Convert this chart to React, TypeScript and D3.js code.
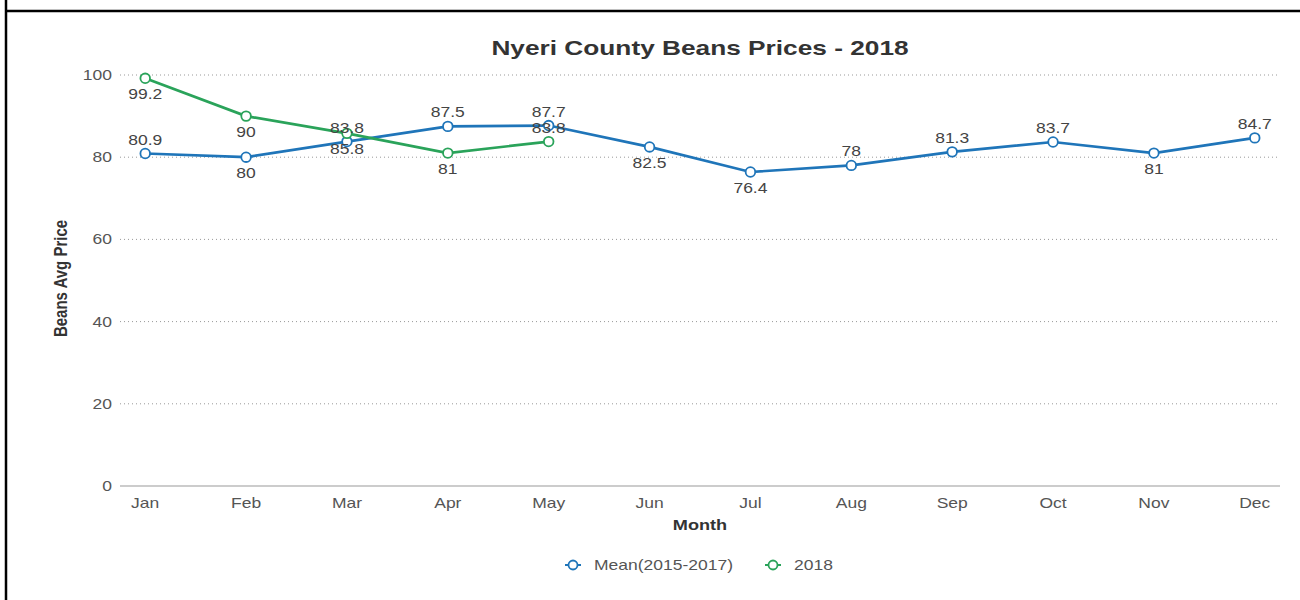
import React from "react";
import * as d3 from "d3";

const months = ["Jan", "Feb", "Mar", "Apr", "May", "Jun", "Jul", "Aug", "Sep", "Oct", "Nov", "Dec"];
const meanValues = [80.9, 80, 83.8, 87.5, 87.7, 82.5, 76.4, 78, 81.3, 83.7, 81, 84.7];
const values2018 = [99.2, 90, 85.8, 81, 83.8];
const yTicks = [0, 20, 40, 60, 80, 100];
const seriesNames = ["Mean(2015-2017)", "2018"];
const seriesColors = ["#1f75b9", "#2aa35a"];

const W = 1300;
const H = 600;
const plotLeft = 120;
const plotRight = 1280;
const plotTop = 75;
const plotBottom = 486;
const font = "'Liberation Sans', Arial, Helvetica, sans-serif";
const SX = 1.25;

type TProps = {
  x: number;
  y: number;
  anchor?: "start" | "middle" | "end";
  size: number;
  bold?: boolean;
  fill: string;
  children: React.ReactNode;
};

function T({ x, y, anchor = "start", size, bold, fill, children }: TProps) {
  return (
    <text
      transform={`translate(${x},${y}) scale(${SX},1)`}
      textAnchor={anchor}
      fontFamily={font}
      fontWeight={bold ? "bold" : "normal"}
      fontSize={size}
      fill={fill}
    >
      {children}
    </text>
  );
}

export default function App() {
  const x = d3.scalePoint<string>().domain(months).range([plotLeft, plotRight]).padding(0.25);
  const y = d3.scaleLinear().domain([0, 100]).range([plotBottom, plotTop]);
  const line = d3
    .line<number>()
    .x((_, i) => x(months[i]) as number)
    .y((d) => y(d));

  const series = [meanValues, values2018];

  const labelFor = (vals: number[], i: number) => {
    const v = vals[i];
    let above = i === 0 ? true : v >= vals[i - 1];
    if (above && y(v) - 20 < plotTop) above = false;
    return above ? y(v) - 9 : y(v) + 21;
  };

  return (
    <div style={{ position: "absolute", left: 0, top: 0, width: W, height: H, background: "#fff" }}>
      <svg width={W} height={H} style={{ display: "block" }}>
        <rect x={0} y={0} width={W} height={H} fill="#fff" />
        <line x1={6} y1={0} x2={6} y2={H} stroke="#000" strokeWidth={2.5} />
        <line x1={6} y1={11} x2={W} y2={11} stroke="#000" strokeWidth={2.5} />

        <T x={700} y={55} anchor="middle" size={21} bold fill="#333">
          Nyeri County Beans Prices - 2018
        </T>

        {yTicks.map((t) => (
          <g key={t}>
            {t !== 0 && (
              <line
                x1={plotLeft}
                x2={plotRight}
                y1={y(t)}
                y2={y(t)}
                stroke="#999"
                strokeWidth={1}
                strokeDasharray="1,3"
              />
            )}
            <T x={112} y={y(t) + 5} anchor="end" size={14} fill="#555">
              {t}
            </T>
          </g>
        ))}
        <line x1={plotLeft} x2={plotRight} y1={plotBottom} y2={plotBottom} stroke="#999" strokeWidth={1} />

        {months.map((m) => (
          <T key={m} x={x(m) as number} y={508} anchor="middle" size={14} fill="#555">
            {m}
          </T>
        ))}

        <T x={700} y={530} anchor="middle" size={14.5} bold fill="#333">
          Month
        </T>
        <text
          transform={`translate(67,${(plotTop + plotBottom) / 2 - 2}) rotate(-90) scale(1,${SX})`}
          textAnchor="middle"
          fontFamily={font}
          fontWeight="bold"
          fontSize={15}
          fill="#333"
        >
          Beans Avg Price
        </text>

        {series.map((vals, si) => (
          <g key={si}>
            <path d={line(vals) || ""} fill="none" stroke={seriesColors[si]} strokeWidth={2.7} />
            {vals.map((v, i) => (
              <circle
                key={i}
                cx={x(months[i])}
                cy={y(v)}
                r={4.8}
                fill="#fff"
                stroke={seriesColors[si]}
                strokeWidth={1.8}
              />
            ))}
          </g>
        ))}
        {series.map((vals, si) => (
          <g key={"l" + si}>
            {vals.map((v, i) => (
              <T key={i} x={x(months[i]) as number} y={labelFor(vals, i)} anchor="middle" size={14} fill="#444">
                {v}
              </T>
            ))}
          </g>
        ))}

        {seriesNames.map((name, i) => {
          const lx = i === 0 ? 573 : 773;
          return (
            <g key={name}>
              <line x1={lx - 8} x2={lx + 8} y1={565} y2={565} stroke={seriesColors[i]} strokeWidth={2} />
              <circle cx={lx} cy={565} r={4.5} fill="#fff" stroke={seriesColors[i]} strokeWidth={1.8} />
              <T x={lx + 21} y={570} size={14} fill="#555">
                {name}
              </T>
            </g>
          );
        })}
      </svg>
    </div>
  );
}
